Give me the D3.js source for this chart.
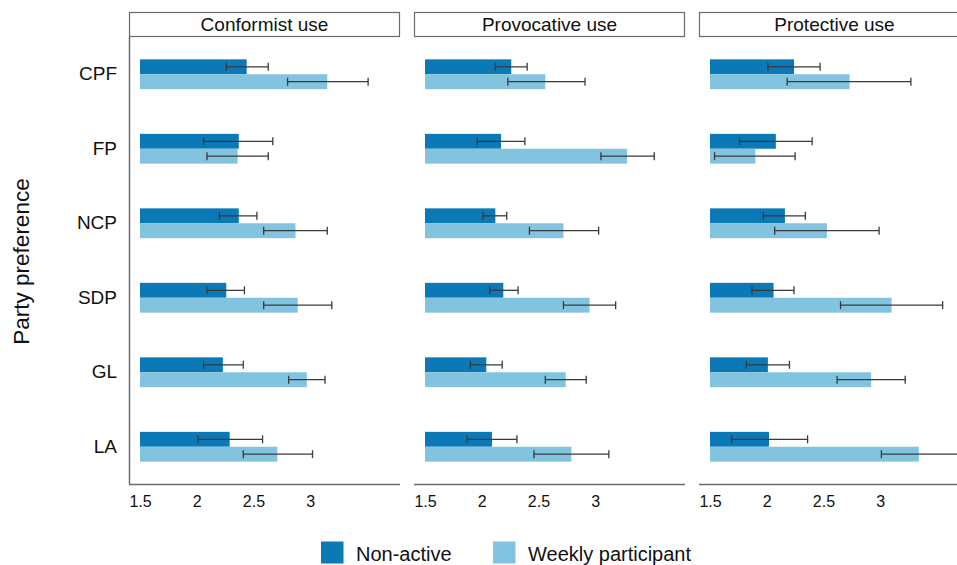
<!DOCTYPE html>
<html>
<head>
<meta charset="utf-8">
<script src="https://cdn.jsdelivr.net/npm/d3@7"></script>
<style>
  html, body { margin: 0; padding: 0; background: #fff; }
  svg { display: block; font-family: "Liberation Sans", Arial, Helvetica, sans-serif; }
</style>
</head>
<body>
<svg id="chart" width="957" height="565"></svg>
<script>
// Party preference categories (top to bottom)
const parties = ["CPF", "FP", "NCP", "SDP", "GL", "LA"];
// Facets
const facets = ["Conformist use", "Provocative use", "Protective use"];
// Series
const groups = ["Non-active", "Weekly participant"];
const groupColors = ["#0b79b6", "#82c4df"];
// X tick values
const xTicks = [1.5, 2, 2.5, 3];

// Conformist use: means and interval bounds
const conformistNon      = [2.44, 2.37, 2.37, 2.26, 2.23, 2.29];
const conformistNonLo    = [2.26, 2.06, 2.20, 2.09, 2.06, 2.01];
const conformistNonHi    = [2.63, 2.67, 2.53, 2.42, 2.41, 2.58];
const conformistWeekly   = [3.15, 2.36, 2.87, 2.89, 2.97, 2.71];
const conformistWeeklyLo = [2.80, 2.09, 2.59, 2.59, 2.81, 2.41];
const conformistWeeklyHi = [3.51, 2.63, 3.15, 3.19, 3.13, 3.02];

// Provocative use
const provocativeNon      = [2.26, 2.17, 2.12, 2.19, 2.04, 2.09];
const provocativeNonLo    = [2.12, 1.96, 2.01, 2.07, 1.90, 1.87];
const provocativeNonHi    = [2.40, 2.38, 2.22, 2.32, 2.18, 2.31];
const provocativeWeekly   = [2.56, 3.28, 2.72, 2.95, 2.74, 2.79];
const provocativeWeeklyLo = [2.23, 3.05, 2.42, 2.72, 2.56, 2.46];
const provocativeWeeklyHi = [2.91, 3.52, 3.03, 3.18, 2.92, 3.12];

// Protective use
const protectiveNon      = [2.24, 2.08, 2.16, 2.06, 2.01, 2.02];
const protectiveNonLo    = [2.01, 1.76, 1.97, 1.87, 1.82, 1.69];
const protectiveNonHi    = [2.47, 2.40, 2.34, 2.24, 2.20, 2.36];
const protectiveWeekly   = [2.73, 1.90, 2.53, 3.10, 2.92, 3.34];
const protectiveWeeklyLo = [2.18, 1.54, 2.07, 2.65, 2.62, 3.01];
const protectiveWeeklyHi = [3.27, 2.25, 2.99, 3.55, 3.22, 3.70];

const facetData = [
  [[conformistNon, conformistNonLo, conformistNonHi], [conformistWeekly, conformistWeeklyLo, conformistWeeklyHi]],
  [[provocativeNon, provocativeNonLo, provocativeNonHi], [provocativeWeekly, provocativeWeeklyLo, provocativeWeeklyHi]],
  [[protectiveNon, protectiveNonLo, protectiveNonHi], [protectiveWeekly, protectiveWeeklyLo, protectiveWeeklyHi]]
];

const svg = d3.select("#chart");
const font = "'Liberation Sans', Arial, Helvetica, sans-serif";
const axisColor = "#6b6b6b";

const plotTop = 37, plotBottom = 484;
const stripTop = 12;

const fx = d3.scaleBand().domain(facets).range([129, 970]).paddingInner(0.0491).paddingOuter(0);
const y = d3.scaleBand().domain(parties).range([plotTop, plotBottom]).paddingInner(0.6).paddingOuter(0.3);
const ySub = d3.scaleBand().domain(groups).range([0, y.bandwidth()]);

facets.forEach((facet, fi) => {
  const x0 = fx(facet);
  const w = fx.bandwidth();
  const x = d3.scaleLinear().domain([1.403, 3.791]).range([x0, x0 + w]);
  const g = svg.append("g");

  // strip
  g.append("rect")
    .attr("x", x0 + 0.5).attr("y", stripTop + 0.5)
    .attr("width", w - 1).attr("height", plotTop - stripTop - 1)
    .attr("fill", "#fff").attr("stroke", axisColor).attr("stroke-width", 1.2);
  g.append("text")
    .attr("x", x0 + w / 2).attr("y", (stripTop + plotTop) / 2 + 1)
    .attr("text-anchor", "middle").attr("dominant-baseline", "middle")
    .attr("font-family", font).attr("font-size", 19).attr("fill", "#111")
    .text(facet);

  // bars and error bars
  groups.forEach((grp, gi) => {
    const [mean, lo, hi] = facetData[fi][gi];
    const rows = parties.map((p, i) => ({ p, m: mean[i], lo: lo[i], hi: hi[i] }));
    g.selectAll(null).data(rows).enter().append("rect")
      .attr("x", x(1.5))
      .attr("y", d => y(d.p) + ySub(grp))
      .attr("width", d => x(d.m) - x(1.5))
      .attr("height", ySub.bandwidth())
      .attr("fill", groupColors[gi]);

    const eb = g.selectAll(null).data(rows).enter().append("g")
      .attr("stroke", "#3a3a3a").attr("stroke-width", 1.3).attr("fill", "none");
    const cy = d => y(d.p) + ySub(grp) + ySub.bandwidth() / 2;
    eb.append("line").attr("x1", d => x(d.lo)).attr("x2", d => x(d.hi)).attr("y1", cy).attr("y2", cy);
    eb.append("line").attr("x1", d => x(d.lo)).attr("x2", d => x(d.lo)).attr("y1", d => cy(d) - 4).attr("y2", d => cy(d) + 4);
    eb.append("line").attr("x1", d => x(d.hi)).attr("x2", d => x(d.hi)).attr("y1", d => cy(d) - 4).attr("y2", d => cy(d) + 4);
  });

  // x axis
  const xAxis = d3.axisBottom(x).tickValues(xTicks).tickSize(0).tickPadding(12).tickFormat(d3.format("~g"));
  const ax = g.append("g").attr("transform", `translate(0,${plotBottom})`).call(xAxis);
  ax.select(".domain").attr("stroke", axisColor).attr("stroke-width", 1.5).attr("d", `M${x0},0.5H${x0 + w}`);
  ax.selectAll("text").attr("font-family", font).attr("font-size", 16).attr("fill", "#111");

  // y axis only on the first facet
  if (fi === 0) {
    const yAxis = d3.axisLeft(y).tickSize(0).tickPadding(12);
    const ay = g.append("g").attr("transform", `translate(${x0},0)`).call(yAxis);
    ay.select(".domain").attr("stroke", axisColor).attr("stroke-width", 1.5).attr("d", `M0.5,${plotTop}V${plotBottom}`);
    ay.selectAll("text").attr("font-family", font).attr("font-size", 19).attr("fill", "#111");
  }
});

// y axis title
svg.append("text")
  .attr("transform", `translate(29,${(plotTop + plotBottom) / 2 + 1}) rotate(-90)`)
  .attr("text-anchor", "middle")
  .attr("font-family", font).attr("font-size", 22.5).attr("fill", "#111")
  .text("Party preference");

// legend
const legendX = [321, 493];
groups.forEach((grp, gi) => {
  svg.append("rect")
    .attr("x", legendX[gi]).attr("y", 541.5).attr("width", 22.5).attr("height", 22)
    .attr("fill", groupColors[gi]);
  svg.append("text")
    .attr("x", legendX[gi] + 35).attr("y", 561)
    .attr("font-family", font).attr("font-size", 20).attr("fill", "#111")
    .text(grp);
});
</script>
</body>
</html>
